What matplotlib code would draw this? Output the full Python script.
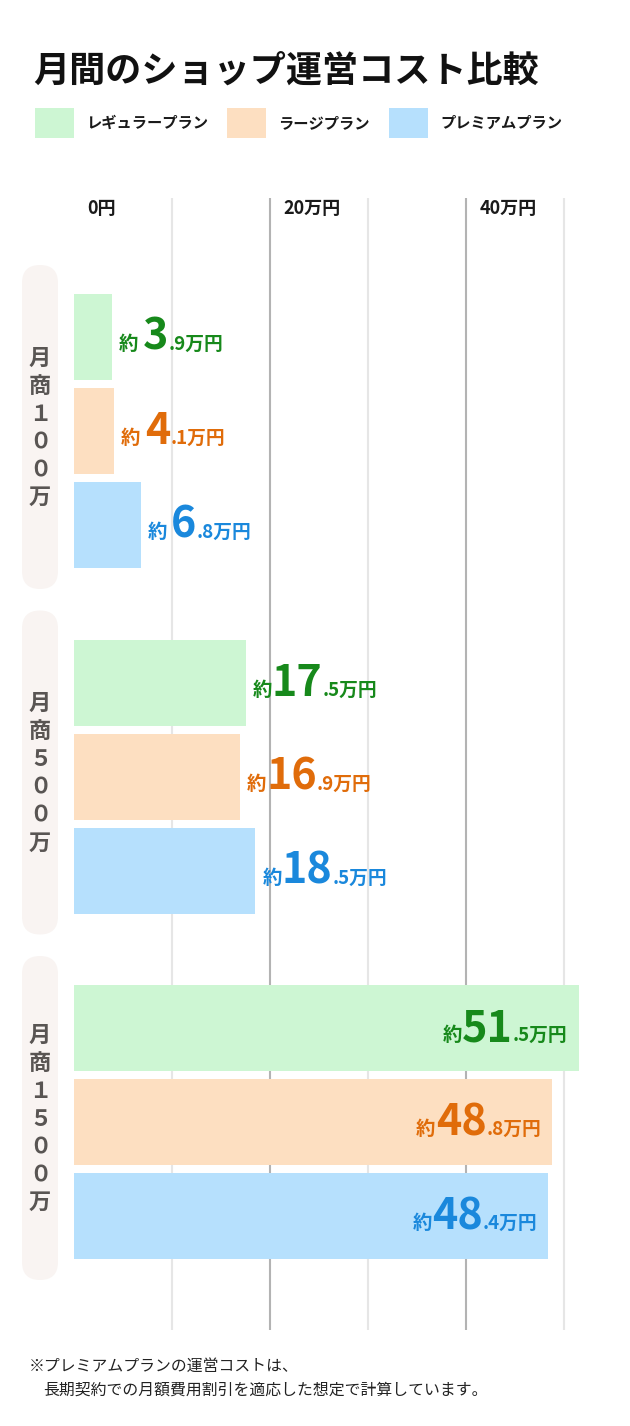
import matplotlib
matplotlib.use("Agg")
import matplotlib.pyplot as plt
from matplotlib.patches import FancyBboxPatch, Rectangle
from matplotlib.offsetbox import TextArea, HPacker, AnnotationBbox

plt.rcParams['font.family'] = ['Noto Sans CJK JP', 'DejaVu Sans']

# データ（単位：万円）
groups = ["月商１００万", "月商５００万", "月商１５００万"]
plans = ["レギュラープラン", "ラージプラン", "プレミアムプラン"]
regular = [3.9, 17.5, 51.5]
large = [4.1, 16.9, 48.8]
premium = [6.8, 18.5, 48.4]
tick_values = [0, 20, 40]
tick_labels = ["0円", "20万円", "40万円"]

bar_colors = ["#cdf6d3", "#fddfc1", "#b6e0fd"]
text_colors = ["#17891b", "#e06c0a", "#1a88dc"]

W, H, DPI = 630, 1426, 100
fig = plt.figure(figsize=(W / DPI, H / DPI), dpi=DPI)


def fx(x):
    return x / W


def fy(y):
    return 1 - y / H


# 軸（x は 1万円 = 9.8px、y はピクセル）
PX_PER = 9.8
ax_left, ax_right, ax_top, ax_bottom = 74, 604, 198, 1330
ax = fig.add_axes([fx(ax_left), fy(ax_bottom), (ax_right - ax_left) / W, (ax_bottom - ax_top) / H])
ax.set_xlim(0, (ax_right - ax_left) / PX_PER)
ax.set_ylim(ax_bottom, ax_top)
ax.axis("off")

# グリッド線
for v in [10, 20, 30, 40, 50]:
    ax.axvline(v, color="#b3b3b3" if v % 20 == 0 else "#e6e6e6", lw=1.5, zorder=0)

# 目盛りラベル
for v, lab in zip(tick_values, tick_labels):
    ax.annotate(lab, (v, 208), xytext=(9.5, 0), textcoords="offset points",
                ha="left", va="center", fontsize=13, fontweight="bold", color="#1a1a1a")

# 棒
series = [regular, large, premium]
bar_h = 86
pitch = 94
group_pitch = 345.5
first_top = 294
for g in range(len(groups)):
    top = first_top + g * group_pitch
    for i, vals in enumerate(series):
        yc = top + i * pitch + bar_h / 2
        v = vals[g]
        ax.barh(yc, v, height=bar_h, color=bar_colors[i], zorder=2)

        ip, dp = f"{v:.1f}".split(".")
        c = text_colors[i]
        yaku = TextArea("約", textprops=dict(fontsize=14, fontweight="bold", color=c))
        big = TextArea(ip, textprops=dict(fontsize=31, fontweight="bold", color=c))
        small = TextArea("." + dp + "万円", textprops=dict(fontsize=13.5, fontweight="bold", color=c))
        num = HPacker(children=[big, small], align="baseline", pad=0, sep=0)
        box = HPacker(children=[yaku, num], align="baseline", pad=0, sep=3 if len(ip) == 1 else 0)
        if v > 30:
            ab = AnnotationBbox(box, (v, yc), xybox=(-8, 0), xycoords="data",
                                boxcoords="offset points", box_alignment=(1, 0.5),
                                frameon=False, pad=0, zorder=3)
        else:
            ab = AnnotationBbox(box, (v, yc), xybox=(5, 0), xycoords="data",
                                boxcoords="offset points", box_alignment=(0, 0.5),
                                frameon=False, pad=0, zorder=3)
        ax.add_artist(ab)

    # グループの縦ラベル
    gc = top + (len(series) - 1) * pitch / 2 + bar_h / 2
    pill_h = 324
    pill = FancyBboxPatch((0.22, (H - gc - pill_h / 2 + 4) / DPI), 0.36, pill_h / DPI,
                          boxstyle="round,pad=0,rounding_size=0.18",
                          transform=fig.dpi_scale_trans, facecolor="#f9f4f2",
                          edgecolor="none", zorder=0)
    fig.add_artist(pill)
    fig.text(fx(40), fy(gc - 3), "\n".join(groups[g]), ha="center", va="center",
             fontsize=16, fontweight="bold", color="#595553", linespacing=1.27)

# タイトル
fig.text(fx(33), fy(71), "月間のショップ運営コスト比較", ha="left", va="center",
         fontsize=26, fontweight="bold", color="#111111")

# 凡例
leg_x = [35, 227, 389]
for x, lab, col in zip(leg_x, plans, bar_colors):
    fig.add_artist(Rectangle((fx(x), fy(138)), 39 / W, 30 / H, transform=fig.transFigure,
                             facecolor=col, edgecolor="none"))
    fig.text(fx(x + 51), fy(123), lab, ha="left", va="center",
             fontsize=11, fontweight="bold", color="#1a1a1a")

# 注記
fig.text(fx(29), fy(1366), "※プレミアムプランの運営コストは、", ha="left", va="center",
         fontsize=11.4, color="#222222")
fig.text(fx(43), fy(1390), "長期契約での月額費用割引を適応した想定で計算しています。", ha="left", va="center",
         fontsize=11.4, color="#222222")

fig.savefig("out.png", dpi=DPI)
